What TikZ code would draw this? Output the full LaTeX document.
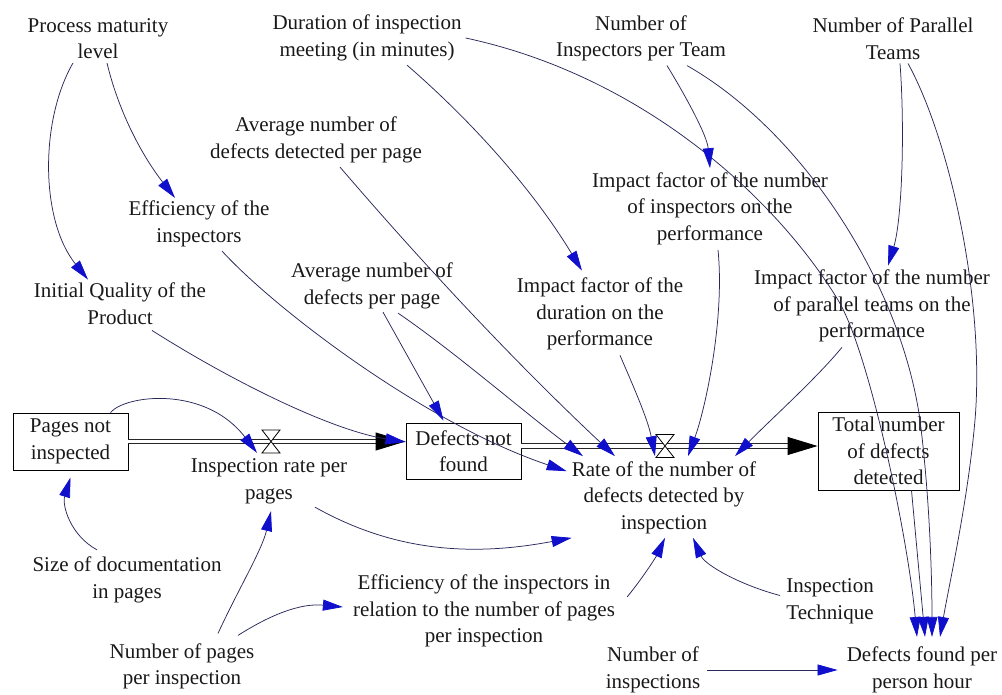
\documentclass[tikz,border=0pt]{standalone}
\usepackage{fontspec}
\setmainfont{Liberation Serif}
\usetikzlibrary{arrows.meta}
\definecolor{linkblue}{RGB}{16,16,204}
\definecolor{linkline}{RGB}{40,40,90}
\tikzset{
var/.style={align=center, inner sep=0pt, text=black!90, font=\fontsize{21}{26.5}\selectfont},
stock/.style={var, draw=black, line width=0.9pt},
pipe/.style={draw=black!85, line width=0.9pt, double=white, double distance=3.6pt,
  -{Triangle[length=30pt,width=18pt,color=black]}},
valve/.style={draw=black, line width=0.8pt, fill=white},
link/.style={draw=linkline, line width=0.75pt, -{Triangle[length=20pt,width=11pt,color=linkblue]}}
}

\begin{document}
\begin{tikzpicture}[x=1pt, y=-1pt]
\useasboundingbox (0,0) rectangle (1002,695);
% constants and auxiliaries
\node[var] (pml) at (98,38.5) {Process maturity\\level};
\node[var] (dur) at (367,38) {Duration of inspection\\meeting (in minutes)};
\node[var] (nip) at (641,38.5) {Number of\\Inspectors per Team};
\node[var] (npt) at (893,38.5) {Number of Parallel\\Teams};
\node[var] (adpp) at (316,140) {Average number of\\defects detected per page};
\node[var] (ifni) at (710,208.5) {Impact factor of the number\\of inspectors on the\\performance};
\node[var] (eff) at (199,224) {Efficiency of the\\inspectors};
\node[var] (avg) at (372,286) {Average number of\\defects per page};
\node[var] (iqp) at (120,303.5) {Initial Quality of the\\Product};
\node[var] (ifd) at (600,314) {Impact factor of the\\duration on the\\performance};
\node[var] (ifpt) at (872,306) {Impact factor of the number\\of parallel teams on the\\performance};
\node[var] (irp) at (269,481.5) {Inspection rate per\\pages};
\node[var] (rate) at (664,497.5) {Rate of the number of\\defects detected by\\inspection};
\node[var] (sdp) at (127,580) {Size of documentation\\in pages};
\node[var] (eir) at (484,611) {Efficiency of the inspectors in\\relation to the number of pages\\per inspection};
\node[var] (itq) at (830,601.5) {Inspection\\Technique};
\node[var] (npi) at (182,666.5) {Number of pages\\per inspection};
\node[var] (noi) at (653,670) {Number of\\inspections};
\node[var] (dfp) at (922,670) {Defects found per\\person hour};
% stocks
\node[stock, minimum width=115pt, minimum height=57pt] (pni) at (70.5,441.5) {Pages not\\inspected};
\node[stock, minimum width=115pt, minimum height=56pt] (dnf) at (463.5,451) {Defects not\\found};
\node[stock, minimum width=141pt, minimum height=78pt] (tnd) at (888.5,451) {Total number\\of defects\\detected};
% flows
\coordinate (v1) at (271,441.5);
\coordinate (v2) at (665,446);
\draw[pipe] (pni.east) -- (pni.east -| dnf.west);
\draw[pipe] (dnf.east |- v2) -- (tnd.west |- v2);
\foreach \v in {v1,v2}
  \draw[valve, shift={(\v)}] (-9,-11.5) -- (9,-11.5) -- (-9,11.5) -- (9,11.5) -- cycle;
% links
\draw[link] ([xshift=-25pt,yshift=-4pt]pml.south) .. controls (40,120) and (40,220) .. ([xshift=-32pt,yshift=3pt]iqp.north);
\draw[link] ([xshift=9pt,yshift=-4pt]pml.south) .. controls (118,109) and (140,153) .. ([xshift=-24pt,yshift=3pt]eff.north);
\draw[link] ([xshift=40pt,yshift=-4pt]dur.south) .. controls (476,125) and (535,193) .. ([xshift=-18pt,yshift=7pt]ifd.north);
\draw[link] ([xshift=4pt]dur.east) .. controls (643,76) and (776,198) .. (838,300) .. controls (869,351) and (908,537) .. ([xshift=-5pt,yshift=10pt]dfp.north);
\draw[link] ([xshift=26pt,yshift=-4pt]nip.south) .. controls (685,95) and (707,135) .. ([yshift=4pt]ifni.north);
\draw[link] ([xshift=46pt,yshift=-4pt]nip.south) .. controls (800,130) and (900,280) .. (920,420) .. controls (930,500) and (932,580) .. ([xshift=10pt,yshift=10pt]dfp.north);
\draw[link] ([xshift=7pt,yshift=-4pt]npt.south) .. controls (905,130) and (902,220) .. ([xshift=16pt,yshift=4pt]ifpt.north);
\draw[link] ([xshift=15pt,yshift=-4pt]npt.south) .. controls (950,140) and (985,300) .. (975,420) .. controls (968,500) and (950,580) .. ([xshift=18pt,yshift=10pt]dfp.north);
\draw[link] ([xshift=23pt]tnd.south) -- ([xshift=3pt,yshift=10pt]dfp.north);
\draw[link] ([xshift=24pt,yshift=-4pt]adpp.south) .. controls (430,272) and (521,368) .. ([xshift=-49pt,yshift=5pt]rate.north);
\draw[link] ([xshift=23pt,yshift=-4pt]eff.south) .. controls (276,310) and (426,424) .. ([xshift=-5pt,yshift=-10pt]rate.north west);
\draw[link] ([xshift=11pt,yshift=-3pt]avg.south) -- ([xshift=-20pt,yshift=2pt]dnf.north);
\draw[link] ([xshift=26pt,yshift=-4pt]avg.south) .. controls (455,352) and (525,413) .. ([xshift=-81pt,yshift=5pt]rate.north);
\draw[link] ([xshift=32pt,yshift=-6pt]iqp.south) .. controls (230,380) and (330,430) .. ([yshift=9pt]dnf.west);
\draw[link] ([xshift=40pt]pni.north) .. controls (125,395) and (205,385) .. ([xshift=-12pt,yshift=6pt]irp.north);
\draw[link] ([xshift=-30pt,yshift=7pt]sdp.north) .. controls (70,535) and (62,505) .. ([yshift=-7pt]pni.south);
\draw[link] ([xshift=36pt,yshift=10pt]npi.north) .. controls (238,590) and (262,550) .. ([xshift=2pt,yshift=-7pt]irp.south);
\draw[link] ([xshift=56pt,yshift=8pt]npi.north) .. controls (270,615) and (300,603) .. ([xshift=-10pt,yshift=4pt]eir.west);
\draw[link] ([xshift=46pt,yshift=-3pt]irp.south) .. controls (400,555) and (480,555) .. ([yshift=-4pt]rate.south west);
\draw[link] ([xshift=12pt,yshift=14pt]eir.east) .. controls (645,575) and (657,555) .. ([xshift=1pt,yshift=-4pt]rate.south);
\draw[link] ([xshift=-6pt,yshift=6pt]itq.west) .. controls (740,585) and (705,565) .. ([xshift=29pt,yshift=-4pt]rate.south);
\draw[link] ([xshift=7pt]noi.east) -- ([xshift=-9pt]dfp.west);
\draw[link] ([xshift=20pt,yshift=-5pt]ifd.south) .. controls (635,390) and (648,420) .. ([xshift=-9pt,yshift=5pt]rate.north);
\draw[link] ([xshift=8pt,yshift=-5pt]ifni.south) .. controls (725,320) and (705,410) .. ([xshift=24pt,yshift=5pt]rate.north);
\draw[link] ([xshift=-30pt,yshift=-5pt]ifpt.south) .. controls (815,380) and (770,420) .. ([xshift=71pt,yshift=5pt]rate.north);
\end{tikzpicture}
\end{document}
